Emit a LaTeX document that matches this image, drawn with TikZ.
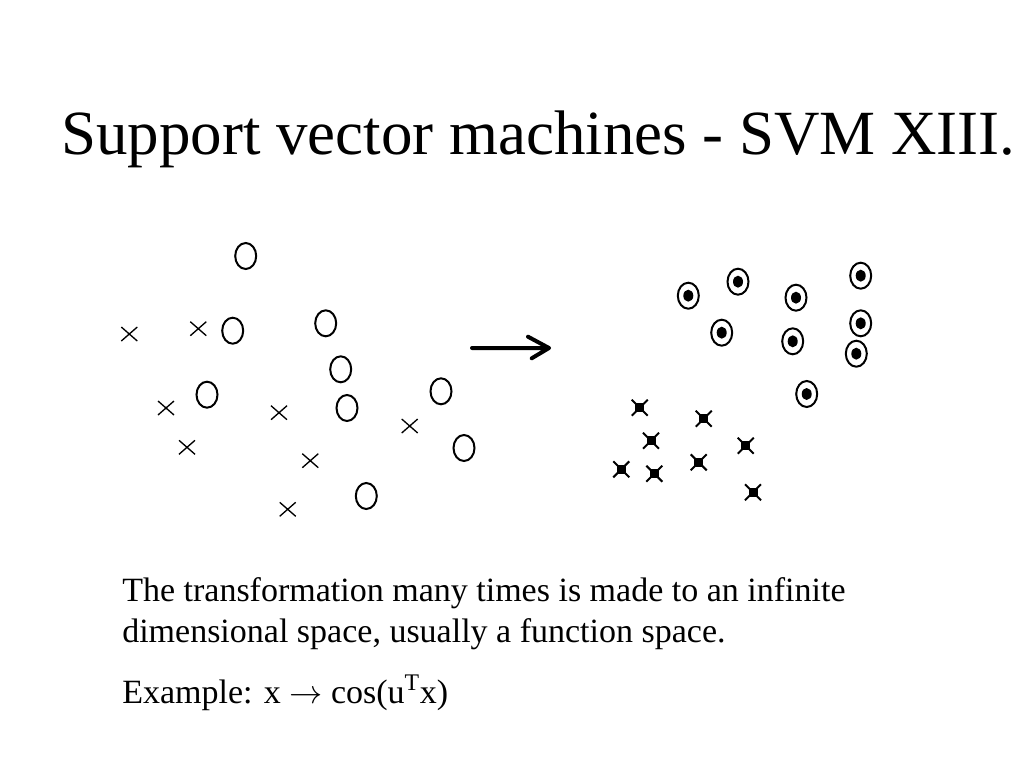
\documentclass[tikz,border=0pt]{standalone}
\usepackage{fontspec}
\setmainfont{Liberation Serif}
\begin{document}
\begin{tikzpicture}[x=0.75pt,y=-0.75pt,
  ring/.style={line width=1.5pt},
  thincross/.style={line width=1pt},
  thickcross/.style={line width=1.5pt},
  titletext/.style={anchor=base west,inner sep=0pt,font=\fontsize{47.2}{57}\selectfont},
  bodytext/.style={anchor=base west,inner sep=0pt,font=\fontsize{25.5}{30}\selectfont}]
\useasboundingbox[fill=white] (0,0) rectangle (1024,768);
\node[titletext] (title) at (61,154) {Support vector machines - SVM XIII.};
% left: circles
\foreach \x/\y in {245.7/256,232.7/330.7,325.7/323.3,340.7/369.3,207/394.7,347/408,441/391.3,464/448,366.3/496}
  \draw[ring] (\x,\y) ellipse [x radius=10.5, y radius=13];
% left: crosses
\foreach \x/\y in {129.3/334,198.3/328.7,166/408,187/447.3,279/412.7,409.7/426,310.3/460.7,287.7/509.3}
  \draw[thincross] (\x-8,\y-7) -- (\x+8,\y+7) (\x-8,\y+7) -- (\x+8,\y-7);
% arrow
\draw[line width=3pt,line cap=round,line join=round] (472,348) -- (549,348)
  (528,336.7) -- (549,348) -- (531.7,358.3);
% right: dotted rings
\foreach \x/\y in {688.3/295.7,738/281.7,796/297.7,860.7/275.7,721.7/332.7,792.7/341.3,860.7/323.3,856.3/353.7,806.7/394}
  {\draw[ring] (\x,\y) ellipse [x radius=10.5, y radius=13];
   \fill (\x,\y) ellipse [x radius=5, y radius=6];}
% right: marked crosses
\foreach \x/\y in {639.7/407.7,703.7/418.7,651/440.7,745.7/445.7,621.3/469.3,654.3/473.7,698.7/462.3,753/492.3}
  {\draw[thickcross] (\x-8,\y-8) -- (\x+8,\y+8) (\x-8,\y+8) -- (\x+8,\y-8);
   \fill (\x-4.5,\y-4.5) rectangle (\x+4.5,\y+4.5);}
\node[bodytext] (line1) at (122,601) {The transformation many times is made to an infinite};
\node[bodytext] (line2) at (122,642) {dimensional space, usually a function space.};
\node[bodytext] (line3) at (122,703) {Example: x $\rightarrow$ cos(u\textsuperscript{T}x)};
\end{tikzpicture}
\end{document}
